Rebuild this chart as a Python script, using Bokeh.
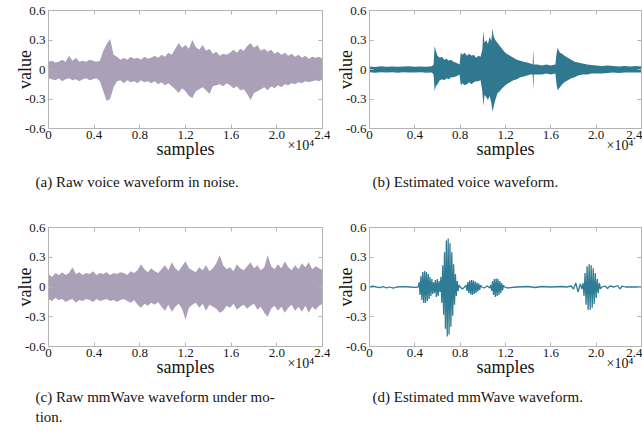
from bokeh.plotting import figure
from bokeh.layouts import row, column
from bokeh.models import Range1d, FixedTicker, LinearAxis, Title, CustomJSTickFormatter
from bokeh.embed import file_html
from bokeh.resources import INLINE

# ---------------- data ----------------
X_TICKS = [0, 0.4, 0.8, 1.2, 1.6, 2.0, 2.4]
X_TICK_LABELS = ["0", "0.4", "0.8", "1.2", "1.6", "2.0", "2.4"]
Y_TICKS = [-0.6, -0.3, 0, 0.3, 0.6]
Y_TICK_LABELS = ["-0.6", "-0.3", "0", "0.3", "0.6"]

CAPTIONS = ["(a) Raw voice waveform in noise.",
            "(b) Estimated voice waveform.",
            "(c) Raw mmWave waveform under mo-",
            "(d) Estimated mmWave waveform."]
CAPTION_C2 = "tion."
X_LABEL = "samples"
Y_LABEL = "value"
X_SCALE = "\u00d710\u2074"

# sample positions (x 10^4) of the envelope readings for panels (a) and (c)
GRID_X = [0.00, 0.03, 0.06, 0.09, 0.12, 0.15, 0.18, 0.21, 0.24, 0.27,
          0.30, 0.33, 0.36, 0.39, 0.42, 0.45, 0.48, 0.51, 0.54, 0.57,
          0.60, 0.63, 0.66, 0.69, 0.72, 0.75, 0.78, 0.81, 0.84, 0.87,
          0.90, 0.93, 0.96, 0.99, 1.02, 1.05, 1.08, 1.11, 1.14, 1.17,
          1.20, 1.23, 1.26, 1.29, 1.32, 1.35, 1.38, 1.41, 1.44, 1.47,
          1.50, 1.53, 1.56, 1.59, 1.62, 1.65, 1.68, 1.71, 1.74, 1.77,
          1.80, 1.83, 1.86, 1.89, 1.92, 1.95, 1.98, 2.01, 2.04, 2.07,
          2.10, 2.13, 2.16, 2.19, 2.22, 2.25, 2.28, 2.31, 2.34, 2.37, 2.40]

# (a) raw voice in noise: upper / lower envelope
A_HI = [0.08, 0.09, 0.07, 0.08, 0.10, 0.08, 0.14, 0.09, 0.12, 0.08,
        0.09, 0.08, 0.10, 0.09, 0.08, 0.09, 0.19, 0.26, 0.31, 0.15,
        0.13, 0.10, 0.12, 0.10, 0.13, 0.11, 0.12, 0.10, 0.13, 0.11,
        0.12, 0.14, 0.12, 0.15, 0.13, 0.17, 0.15, 0.21, 0.27, 0.22,
        0.25, 0.21, 0.30, 0.23, 0.20, 0.25, 0.19, 0.21, 0.16, 0.18,
        0.14, 0.16, 0.15, 0.17, 0.20, 0.17, 0.21, 0.19, 0.24, 0.27,
        0.22, 0.25, 0.19, 0.21, 0.18, 0.20, 0.16, 0.18, 0.15, 0.17,
        0.14, 0.16, 0.13, 0.15, 0.12, 0.14, 0.11, 0.13, 0.12, 0.13, 0.11]
A_LO = [-0.09, -0.10, -0.11, -0.09, -0.12, -0.10, -0.09, -0.11, -0.10, -0.12,
        -0.10, -0.09, -0.11, -0.10, -0.09, -0.12, -0.22, -0.32, -0.30, -0.18,
        -0.12, -0.11, -0.14, -0.11, -0.13, -0.12, -0.14, -0.11, -0.13, -0.12,
        -0.14, -0.12, -0.15, -0.13, -0.16, -0.14, -0.17, -0.20, -0.24, -0.19,
        -0.22, -0.27, -0.29, -0.22, -0.20, -0.18, -0.21, -0.25, -0.17, -0.16,
        -0.15, -0.17, -0.14, -0.16, -0.19, -0.17, -0.21, -0.20, -0.25, -0.31,
        -0.24, -0.22, -0.20, -0.18, -0.21, -0.17, -0.19, -0.16, -0.18, -0.15,
        -0.16, -0.14, -0.15, -0.13, -0.14, -0.12, -0.13, -0.12, -0.11, -0.12, -0.10]

# (b) estimated voice: envelope at uneven sample positions
B_X = [0.00, 0.05, 0.10, 0.15, 0.20, 0.25, 0.30, 0.35, 0.40, 0.45, 0.50, 0.55,
       0.565, 0.575, 0.585,
       0.60, 0.62, 0.64, 0.66, 0.68, 0.70, 0.72, 0.74, 0.76, 0.78,
       0.795, 0.805,
       0.82, 0.84, 0.86, 0.88, 0.90, 0.92, 0.94, 0.96, 0.98,
       0.995, 1.005, 1.015, 1.03, 1.045, 1.06, 1.075, 1.085, 1.095, 1.11,
       1.13, 1.15, 1.17, 1.19, 1.21,
       1.24, 1.27, 1.30, 1.33, 1.36, 1.39, 1.42,
       1.44, 1.445, 1.45,
       1.48, 1.52, 1.56, 1.60, 1.64,
       1.65, 1.66, 1.68, 1.70, 1.72,
       1.75, 1.78, 1.81, 1.84,
       1.88, 1.92, 1.96, 2.00,
       2.05, 2.10, 2.15, 2.20, 2.25, 2.30, 2.35, 2.40]
B_HI = [0.030, 0.026, 0.032, 0.028, 0.031, 0.027, 0.030, 0.033, 0.028, 0.031, 0.029, 0.033,
        0.05, 0.24, 0.19,
        0.14, 0.12, 0.13, 0.10, 0.11, 0.09, 0.10, 0.08, 0.07, 0.06,
        0.05, 0.17,
        0.15, 0.17, 0.14, 0.16, 0.14, 0.15, 0.12, 0.14, 0.13,
        0.20, 0.39, 0.27, 0.30, 0.26, 0.33, 0.29, 0.42, 0.34, 0.30,
        0.27, 0.24, 0.21, 0.18, 0.16,
        0.14, 0.12, 0.10, 0.09, 0.08, 0.07, 0.06,
        0.05, 0.20, 0.05,
        0.05, 0.04, 0.05, 0.04, 0.05,
        0.16, 0.22, 0.17, 0.16, 0.14,
        0.12, 0.10, 0.08, 0.07,
        0.06, 0.05, 0.045, 0.04,
        0.035, 0.04, 0.035, 0.03, 0.035, 0.03, 0.035, 0.03]
B_LO = [-0.028, -0.032, -0.027, -0.030, -0.029, -0.033, -0.028, -0.030, -0.031, -0.028, -0.032, -0.030,
        -0.05, -0.22, -0.17,
        -0.15, -0.11, -0.10, -0.11, -0.09, -0.10, -0.08, -0.08, -0.07, -0.06,
        -0.05, -0.16,
        -0.14, -0.16, -0.15, -0.13, -0.15, -0.13, -0.12, -0.12, -0.11,
        -0.22, -0.37, -0.26, -0.28, -0.31, -0.27, -0.34, -0.43, -0.38, -0.31,
        -0.24, -0.22, -0.19, -0.17, -0.15,
        -0.13, -0.11, -0.10, -0.08, -0.07, -0.06, -0.05,
        -0.05, -0.21, -0.05,
        -0.05, -0.05, -0.04, -0.05, -0.04,
        -0.15, -0.21, -0.18, -0.15, -0.13,
        -0.11, -0.09, -0.08, -0.06,
        -0.05, -0.05, -0.04, -0.04,
        -0.04, -0.035, -0.03, -0.035, -0.03, -0.03, -0.03, -0.03]

# (c) raw mmWave under motion: upper / lower envelope on GRID_X
C_HI = [0.13, 0.10, 0.14, 0.12, 0.15, 0.12, 0.14, 0.20, 0.13, 0.15,
        0.12, 0.14, 0.13, 0.16, 0.12, 0.14, 0.13, 0.15, 0.12, 0.14,
        0.13, 0.15, 0.14, 0.12, 0.16, 0.14, 0.17, 0.23, 0.18, 0.15,
        0.19, 0.16, 0.14, 0.18, 0.22, 0.17, 0.25, 0.19, 0.16, 0.21,
        0.26, 0.19, 0.17, 0.15, 0.20, 0.17, 0.22, 0.16, 0.19, 0.24,
        0.32, 0.22, 0.18, 0.20, 0.16, 0.23, 0.19, 0.17, 0.21, 0.25,
        0.19, 0.22, 0.17, 0.20, 0.32, 0.21, 0.18, 0.23, 0.19, 0.26,
        0.20, 0.17, 0.22, 0.18, 0.24, 0.20, 0.25, 0.18, 0.21, 0.19, 0.17]
C_LO = [-0.12, -0.14, -0.11, -0.13, -0.12, -0.15, -0.13, -0.12, -0.16, -0.13,
        -0.14, -0.12, -0.13, -0.15, -0.12, -0.14, -0.13, -0.12, -0.14, -0.13,
        -0.15, -0.13, -0.12, -0.14, -0.16, -0.13, -0.18, -0.21, -0.17, -0.19,
        -0.16, -0.18, -0.15, -0.20, -0.24, -0.18, -0.25, -0.20, -0.17, -0.22,
        -0.33, -0.21, -0.18, -0.16, -0.21, -0.17, -0.24, -0.18, -0.20, -0.22,
        -0.26, -0.24, -0.19, -0.21, -0.17, -0.23, -0.20, -0.18, -0.22, -0.19,
        -0.17, -0.23, -0.20, -0.26, -0.30, -0.22, -0.19, -0.24, -0.20, -0.26,
        -0.21, -0.18, -0.24, -0.20, -0.25, -0.19, -0.26, -0.20, -0.23, -0.19, -0.17]

# (d) estimated mmWave: peaks and troughs of the signal
D_X = [0.00, 0.03, 0.06, 0.09, 0.12, 0.15, 0.18, 0.21, 0.24, 0.30, 0.36, 0.40, 0.43,
       0.438, 0.446, 0.454, 0.462, 0.470, 0.478, 0.486, 0.494, 0.502, 0.510,
       0.518, 0.526, 0.534, 0.542, 0.550, 0.558, 0.566,
       0.574, 0.582, 0.590, 0.598, 0.606, 0.614, 0.622,
       0.630, 0.638, 0.646, 0.654, 0.662, 0.670, 0.678, 0.686, 0.694, 0.702,
       0.710, 0.718, 0.726, 0.734, 0.742, 0.750, 0.758, 0.766, 0.774, 0.782,
       0.790, 0.80, 0.82, 0.84,
       0.852, 0.860, 0.868, 0.876, 0.884, 0.892, 0.900, 0.908, 0.916, 0.924,
       0.932, 0.940, 0.948, 0.956, 0.964, 0.972, 0.980, 0.99, 1.01, 1.04, 1.06,
       1.070, 1.078, 1.086, 1.094, 1.102, 1.110, 1.118, 1.126, 1.134, 1.142,
       1.150, 1.158, 1.166, 1.174, 1.182, 1.19,
       1.22, 1.30, 1.40, 1.46, 1.52, 1.60, 1.70, 1.74,
       1.78, 1.80, 1.82, 1.84, 1.86, 1.875,
       1.884, 1.893, 1.902, 1.911, 1.920, 1.929, 1.938, 1.947, 1.956, 1.965,
       1.974, 1.983, 1.992, 2.001, 2.010, 2.019, 2.028, 2.037,
       2.05, 2.08, 2.10, 2.12, 2.16, 2.19, 2.21, 2.23, 2.26, 2.35, 2.40]
D_Y = [0.0, 0.008, 0.0, -0.006, 0.004, -0.01, 0.0, -0.012, 0.0, 0.004, 0.0, -0.004, 0.0,
       0.05, -0.08, 0.11, -0.13, 0.15, -0.16, 0.16, -0.16, 0.15, -0.14,
       0.13, -0.12, 0.10, -0.09, 0.08, -0.07, 0.05,
       -0.06, 0.07, -0.10, 0.08, -0.09, 0.06, -0.05,
       0.10, -0.16, 0.22, -0.28, 0.35, -0.42, 0.47, -0.50, 0.49, -0.48,
       0.44, -0.40, 0.35, -0.29, 0.23, -0.18, 0.13, -0.09, 0.06, -0.04,
       0.02, 0.0, -0.02, 0.0,
       0.02, -0.04, 0.05, -0.06, 0.065, -0.075, 0.07, -0.08, 0.065, -0.07,
       0.055, -0.06, 0.045, -0.045, 0.035, -0.03, 0.02, 0.0, -0.01, 0.01, -0.01,
       0.02, -0.04, 0.06, -0.08, 0.08, -0.10, 0.085, -0.09, 0.08, -0.08,
       0.06, -0.06, 0.04, -0.035, 0.02, 0.0,
       -0.01, 0.0, 0.005, -0.005, 0.005, 0.0, 0.005, 0.0,
       0.01, -0.02, 0.04, -0.05, 0.03, -0.02,
       0.04, -0.09, 0.14, -0.18, 0.21, -0.23, 0.23, -0.23, 0.22, -0.21,
       0.19, -0.17, 0.14, -0.11, 0.08, -0.06, 0.04, -0.02,
       0.0, 0.01, -0.015, 0.01, 0.0, 0.015, -0.02, 0.01, 0.0, 0.0, 0.0]

assert len(GRID_X) == len(A_HI) == len(A_LO) == len(C_HI) == len(C_LO)
assert len(B_X) == len(B_HI) == len(B_LO)
assert len(D_X) == len(D_Y)

# ---------------- styles ----------------
FONT = "Liberation Serif"
FRAME = "#b4b4b4"
TEXT = "#151515"
PURPLE = "#aaa1b8"
TEAL = "#2f7890"
TEAL_LINE = "#317c95"
SCALE_POS = 2.21   # where the x10^4 multiplier sits along the x axis


def fmt(vals, labels):
    return CustomJSTickFormatter(args=dict(vals=vals, labels=labels), code="""
        for (let i = 0; i < vals.length; i++) {
            if (Math.abs(vals[i] - tick) < 1e-9) return labels[i];
        }
        return "";
    """)


def style_axis(ax):
    ax.axis_line_color = FRAME
    ax.major_tick_line_color = FRAME
    ax.major_tick_in = 4
    ax.major_tick_out = 0
    ax.minor_tick_line_color = None
    ax.major_label_text_font = FONT
    ax.major_label_text_font_size = "13px"
    ax.major_label_text_color = TEXT
    ax.axis_label_text_font = FONT
    ax.axis_label_text_font_size = "18px"
    ax.axis_label_text_font_style = "normal"
    ax.axis_label_text_color = TEXT


def make_panel(w, h, bl, br, bt, bb):
    p = figure(width=w, height=h, x_range=Range1d(0, 2.4), y_range=Range1d(-0.6, 0.6),
               output_backend="svg", toolbar_location=None,
               min_border_left=bl, min_border_right=br,
               min_border_top=bt, min_border_bottom=bb,
               y_axis_label=Y_LABEL)
    p.outline_line_color = FRAME
    p.grid.visible = False
    for ax in p.xaxis:
        style_axis(ax)
        ax.ticker = FixedTicker(ticks=X_TICKS)
        ax.formatter = fmt(X_TICKS, X_TICK_LABELS)
        ax.major_label_standoff = 2
    for ax in p.yaxis:
        style_axis(ax)
        ax.ticker = FixedTicker(ticks=Y_TICKS)
        ax.formatter = fmt(Y_TICKS, Y_TICK_LABELS)
        ax.major_label_standoff = 3
        ax.axis_label_standoff = -13
    # mirrored inward ticks on the top and right edges
    top = LinearAxis(ticker=FixedTicker(ticks=X_TICKS), formatter=fmt([], []))
    right = LinearAxis(ticker=FixedTicker(ticks=Y_TICKS), formatter=fmt([], []))
    for ax in (top, right):
        style_axis(ax)
        ax.major_label_text_font_size = "1px"
        ax.major_label_standoff = 0
    p.add_layout(top, "above")
    p.add_layout(right, "right")
    # second bottom axis: carries the x10^4 multiplier and the "samples" label
    sc = LinearAxis(ticker=FixedTicker(ticks=[SCALE_POS]),
                    formatter=fmt([SCALE_POS], [X_SCALE]), axis_label=X_LABEL)
    style_axis(sc)
    sc.major_label_text_font_size = "14px"
    sc.axis_line_color = None
    sc.major_tick_line_color = None
    sc.major_label_standoff = -4
    sc.axis_label_standoff = -17
    p.add_layout(sc, "below")
    return p


def caption(p, text, offset, standoff):
    p.add_layout(Title(text=text, align="left", offset=offset, standoff=standoff,
                       text_font=FONT, text_font_size="15px", text_font_style="normal",
                       text_color=TEXT), "below")


# top row
pa = make_panel(330, 200, 48, 8, 10, 71)
pb = make_panel(312, 200, 39, 1, 10, 71)
# bottom row
pc = make_panel(330, 234, 48, 8, 27, 88)
pd = make_panel(312, 234, 39, 1, 27, 88)

pa.varea(x=GRID_X, y1=A_LO, y2=A_HI, fill_color=PURPLE)
pb.varea(x=B_X, y1=B_LO, y2=B_HI, fill_color=TEAL)
pc.varea(x=GRID_X, y1=C_LO, y2=C_HI, fill_color=PURPLE)
pd.line(x=D_X, y=D_Y, line_color=TEAL_LINE, line_width=1.3)

caption(pa, CAPTIONS[0], -13, 21)
caption(pb, CAPTIONS[1], 3, 21)
caption(pc, CAPTIONS[2], -13, 15)
caption(pc, CAPTION_C2, -13, -12)
caption(pd, CAPTIONS[3], 3, 15)

layout = column(row(pa, pb), row(pc, pd))

open("out.html", "w").write(file_html(layout, INLINE))
